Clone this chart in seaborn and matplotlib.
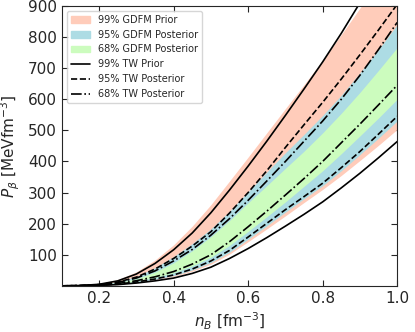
import numpy as np
import pandas as pd
import matplotlib
matplotlib.use("Agg")
import matplotlib.pyplot as plt
import seaborn as sns
from matplotlib.patches import Patch
from matplotlib.lines import Line2D

# baryon density grid [fm^-3]
n_B = [0.10, 0.15, 0.20, 0.25, 0.30, 0.35, 0.40, 0.45, 0.50, 0.55,
       0.60, 0.65, 0.70, 0.75, 0.80, 0.85, 0.90, 0.95, 1.00]

# GDFM bands (lower / upper edges), MeV fm^-3
gdfm99_lo = [0, 0.4, 1.8, 5, 11, 19, 30, 47, 70, 102, 142, 183, 225, 268, 310, 355, 403, 452, 503]
gdfm99_hi = [0, 1.5, 7, 20, 45, 83, 132, 192, 261, 337, 414, 492, 570, 647, 725, 808, 893, 975, 1055]
gdfm95_lo = [0, 0.4, 2, 5.3, 12, 21, 33, 51, 75, 108, 150, 193, 237, 280, 322, 370, 422, 475, 530]
gdfm95_hi = [0, 1, 4, 13, 30, 58, 94, 136, 183, 240, 303, 366, 428, 487, 548, 613, 685, 760, 840]
gdfm68_lo = [0, 0.5, 2.5, 6.7, 15, 27, 42, 64, 92, 130, 175, 222, 270, 320, 370, 425, 482, 540, 600]
gdfm68_hi = [0, 0.8, 3.5, 10, 23, 44, 74, 113, 158, 210, 267, 322, 378, 433, 492, 555, 622, 693, 766]

# TW bands (lines)
tw99_lo = [0, 0.3, 1.5, 4, 9, 16, 25, 40, 60, 88, 120, 155, 192, 230, 270, 315, 362, 412, 464]
tw99_hi = [0, 1, 5, 16, 38, 72, 116, 170, 235, 308, 385, 465, 548, 633, 720, 812, 910, 1005, 1105]
tw95_lo = [0, 0.4, 2.1, 5.6, 12.6, 22, 35, 54, 80, 114, 157, 201, 245, 287, 330, 380, 432, 488, 545]
tw95_hi = [0, 1, 4, 12, 28, 54, 88, 128, 174, 234, 300, 370, 445, 518, 590, 665, 743, 823, 905]
tw68_lo = [0, 0.6, 2.8, 7.4, 16.5, 29, 46, 70, 100, 142, 190, 240, 292, 345, 400, 460, 520, 582, 645]
tw68_hi = [0, 0.8, 3.5, 11, 25, 48, 80, 117, 163, 216, 275, 337, 400, 465, 530, 600, 677, 760, 847]

sns.set_style("ticks")
plt.rcParams['font.family'] = ['DejaVu Sans']

fig, ax = plt.subplots(figsize=(4.15, 3.32), dpi=100)
fig.subplots_adjust(left=0.149, right=0.957, bottom=0.139, top=0.982)

c99, c95, c68 = '#FFCCBA', '#ADDCE4', '#CCFCBE'
ax.fill_between(n_B, gdfm99_lo, gdfm99_hi, color=c99, lw=0)
ax.fill_between(n_B, gdfm95_lo, gdfm95_hi, color=c95, lw=0)
ax.fill_between(n_B, gdfm68_lo, gdfm68_hi, color=c68, lw=0)

tw = pd.DataFrame({'n': n_B * 6,
                   'P': tw99_lo + tw99_hi + tw95_lo + tw95_hi + tw68_lo + tw68_hi,
                   'curve': sum([[k] * len(n_B) for k in ['99lo', '99hi', '95lo', '95hi', '68lo', '68hi']], [])})
styles = {'99': '-', '95': '--', '68': '-.'}
for key, grp in tw.groupby('curve'):
    sns.lineplot(data=grp, x='n', y='P', ax=ax, color='black', lw=1.2,
                 linestyle=styles[key[:2]], legend=False)

ax.set_xlim(0.1, 1.0)
ax.set_ylim(0, 900)
ax.set_xticks([0.2, 0.4, 0.6, 0.8, 1.0])
ax.set_yticks(range(100, 1000, 100))
ax.tick_params(direction='in', top=True, right=True, labelsize=11, length=4)
ax.set_xlabel(r'$n_B$ [fm$^{-3}$]', fontsize=11)
ax.set_ylabel(r'$P_\beta$ [MeVfm$^{-3}$]', fontsize=11)

handles = [Patch(color=c99, label='99% GDFM Prior'),
           Patch(color=c95, label='95% GDFM Posterior'),
           Patch(color=c68, label='68% GDFM Posterior'),
           Line2D([], [], color='black', lw=1.2, ls='-', label='99% TW Prior'),
           Line2D([], [], color='black', lw=1.2, ls='--', label='95% TW Posterior'),
           Line2D([], [], color='black', lw=1.2, ls='-.', label='68% TW Posterior')]
ax.legend(handles=handles, loc='upper left', fontsize=7, frameon=True)

fig.savefig('out.png', dpi=100)
